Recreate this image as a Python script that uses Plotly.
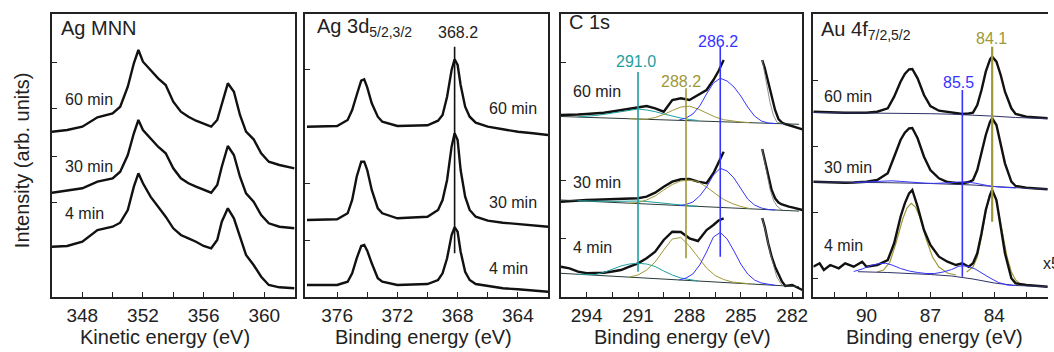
import plotly.graph_objects as go

W, H = 1054, 352
ML, MR, MT, MB = 52, 0, 14, 55
PW = W - ML - MR
PH = H - MT - MB
FONT = "Liberation Sans, Arial, sans-serif"

TEAL = "#1f9e9e"
OLIVE = "#9e9838"
BLUE = "#3535ff"
NAVY = "#303068"
INK = "#111111"

# ---------------- Ag MNN (kinetic energy) ----------------
mnn_energy = [346.0, 347, 348, 349, 350, 350.5, 351, 351.4, 351.7, 352, 352.5, 353, 353.5, 354, 354.5,
              355, 355.5, 356, 356.5, 356.9, 357.2, 357.6, 358, 358.4, 358.8, 359.3, 359.8, 360.3, 361, 362]
mnn_60 = [165.3, 167, 170.3, 179.7, 183.7, 190.3, 210.3, 233.7, 247, 235.3, 227, 218.7, 212, 195.3, 185.3,
          180.3, 176.3, 173, 170.3, 177, 193.7, 213.7, 205.3, 182, 165.3, 157.7, 143.7, 135.3, 132, 128.7]
mnn_30 = [104.3, 106.3, 108.7, 115.3, 118.7, 125.3, 142, 163.7, 177, 167, 158.7, 150.3, 143.7, 128.7, 118.7,
          113.7, 110.3, 107, 104.3, 112, 130.3, 151, 142, 120.3, 103.7, 95.3, 82, 73.7, 70.3, 68.7]
mnn_4 = [50.3, 51, 55.3, 67, 70.3, 74.3, 87, 110.3, 123.7, 113.7, 100.3, 90.3, 80.3, 68.7, 62,
         58.7, 55.3, 51, 48.7, 57, 75.3, 88.7, 78.7, 60.3, 42, 32, 20.3, 12, 9.7, 8.7]

# ---------------- Ag 3d ----------------
ag3d_energy = [378, 376, 375.3, 375, 374.7, 374.4, 374.2, 374, 373.7, 373.3, 373, 372, 370, 369.3,
               369, 368.7, 368.4, 368.2, 368, 367.8, 367.5, 367.2, 366.8, 366, 365, 364, 363, 362]
ag3d_60 = [170.3, 171, 177, 187, 202, 216.3, 217.7, 209.7, 193.7, 180.3, 175.3, 171, 171.7, 176.3,
           182, 200.3, 227, 237.7, 232, 212, 190.3, 180.3, 174.3, 170.3, 167.7, 165.3, 163.7, 162]
ag3d_30 = [77, 77.7, 83.7, 97, 120.3, 135.3, 135.3, 127, 107, 88.7, 83.7, 78.7, 80.3, 87,
           97, 117, 150.3, 163.7, 157, 127, 100.3, 87, 80.3, 76.3, 74.3, 73, 71.7, 70.3]
ag3d_4 = [12, 12, 15.3, 23.7, 38.7, 51, 52, 46.3, 33.7, 18.7, 15.3, 12, 13, 17,
          23.7, 38.7, 62, 69.7, 65.3, 45.3, 25.3, 17, 13, 11, 8.7, 7.7, 6.3, 5.3]
ag3d_peak = 368.2
ag3d_marker_span = [43.7, 250.3]

# ---------------- C 1s ----------------
c1s_left_energy = [295.5, 295, 294.5, 294, 293.5, 293, 292.5, 292, 291.5, 291, 290.5, 290, 289.5,
                   289, 288.5, 288, 287.5, 287, 286.6, 286.3, 286.0]
c1s_left_60 = [182, 182, 182.5, 183, 183.5, 184.3, 185.5, 187, 188.5, 189.7, 191, 188.7, 185.3,
               197, 198.7, 197, 202, 207, 217, 226, 237]
c1s_left_30 = [95.3, 96, 96.5, 97, 97.3, 97.7, 97.8, 98, 98.3, 98.7, 100.3, 104.3, 110.3,
               115.3, 117.7, 118, 115.3, 113.7, 123.7, 133.7, 145.3]
c1s_left_4 = [30.3, 28.7, 25.3, 23.7, 24, 24.3, 25.5, 27, 30.3, 33.7, 38.7, 45.3, 57,
              65.3, 65, 58.7, 56, 67, 72, 76.5, 78.7]
c1s_right_energy = [283.75, 283.6, 283.4, 283.2, 283.0, 282.8, 282.6, 282.4, 282.2, 282.0, 281.7, 281.4]
c1s_right_60 = [237, 229, 215, 200.3, 187, 178, 174.5, 173, 172, 171, 169, 167.7]
c1s_right_30 = [148, 137, 120, 107, 98.7, 94.5, 92.5, 91, 90.3, 89.7, 88.5, 87]
c1s_right_4 = [79, 70, 53.7, 40.3, 30.3, 22.5, 15.5, 11, 11.5, 12, 9.5, 7]

c1s_bg_energy = [295.5, 291, 288, 286, 284.5, 283.5, 282.6, 281.6]
c1s_bg_60 = [180.5, 178, 176.3, 175.2, 174.3, 173.8, 173.3, 172.7]
c1s_bg_30 = [97, 93.4, 91, 89.4, 88.2, 87.4, 86.7, 85.9]
c1s_bg_4 = [23.7, 19.4, 16.5, 14.6, 13.1, 12.2, 11.3, 10.3]

c1s_teal_energy = [294.5, 294, 293.5, 293, 292.5, 292, 291.5, 291, 290.5, 290, 289.5, 289, 288.5, 288, 287.5]
c1s_teal_60 = [180.2, 180.7, 181.5, 182.6, 184, 185.5, 187, 188, 187, 185.4, 183, 180.9, 179, 177.5, 176.5]
c1s_teal_30 = [96.2, 95.9, 95.6, 95.6, 95.6, 95.7, 95.9, 96, 95.5, 94.6, 93.6, 92.6, 91.8, 91.2, 90.8]
c1s_teal_4 = [22.7, 22.4, 22.5, 24.5, 28, 31, 33, 33.7, 33, 30.5, 26, 22, 19, 17.2, 16]

c1s_olive_energy = [291.5, 291, 290.5, 290, 289.5, 289, 288.5, 288, 287.5, 287, 286.5, 286, 285.5, 285, 284.5]
c1s_olive_60 = [178.3, 178.2, 177.8, 179.5, 182.5, 186.5, 190, 190.8, 188, 184, 180, 177.3, 175.8, 175, 174.4]
c1s_olive_30 = [93.8, 94.5, 97, 101, 107, 112.5, 116, 117, 115.5, 110, 103.5, 97.5, 93.5, 90.5, 88.5]
c1s_olive_4 = [20, 22, 27, 35, 47, 58, 59.5, 51, 40, 29, 21.5, 17.5, 15, 13.8, 13.2]

c1s_blue_energy = [288.6, 288.2, 287.8, 287.4, 287, 286.6, 286.2, 285.8, 285.4, 285, 284.6, 284.2, 283.8, 283.4, 283]
c1s_blue_60 = [177, 179, 183, 191, 203, 214, 218.7, 216, 210, 201, 190, 181, 176, 174, 173.5]
c1s_blue_30 = [91.3, 92.5, 95, 101, 110, 122, 128.7, 126, 119, 108, 98, 92, 89, 87.5, 87]
c1s_blue_4 = [17, 19, 23, 32, 45, 60, 64.5, 58, 46, 33, 23, 17, 14, 12.5, 11.7]

c1s_env_energy = [283.75, 283.5, 283.3, 283.1, 282.9, 282.6]
c1s_env_60 = [237, 215, 195, 182, 175, 173.3]
c1s_env_30 = [148, 125, 108, 97, 91, 87]
c1s_env_4 = [79, 62, 45, 32, 20, 12]

c1s_peaks = [291.0, 288.2, 286.2]
c1s_marker_spans = [[25.3, 225.0], [38.7, 208.7], [40.3, 250.3]]

# ---------------- Au 4f ----------------
au_energy = [92.5, 92.2, 92, 91.7, 91.3, 91, 90.6, 90.2, 90, 89.5, 89, 88.7, 88.4, 88.2, 88.0, 87.85,
             87.6, 87.3, 87, 86.6, 86.2, 85.8, 85.5, 85.2, 85, 84.8, 84.6, 84.4, 84.2, 84.1, 83.9,
             83.7, 83.5, 83.2, 83, 82.5, 82, 81.5]
au_60 = [185.3, 185, 184.7, 184.5, 184.4, 184.3, 184.3, 184.3, 184.3, 185.3, 188.7, 200.3, 215.3, 223,
         227.7, 228, 218.7, 202, 191, 186.3, 185, 183.7, 183, 183.5, 184.3, 192, 207, 225.3, 237.7,
         240.3, 235.3, 222, 205.3, 188.7, 183, 180.3, 179.7, 178.7]
au_30 = [115.3, 115, 114.7, 114.5, 114.4, 114.3, 114.5, 115, 115.3, 117, 123.7, 140.3, 157, 164.3,
         168.7, 169, 158.7, 140.3, 127, 118.7, 115, 114, 113.7, 115, 117, 127, 143.7, 162, 175.3,
         178.7, 172, 153.7, 133.7, 115.3, 111, 109.3, 108.3, 107.7]
au_4 = [30.3, 33.7, 27, 32, 28.7, 33.7, 30.3, 35.3, 30.3, 32, 37, 53.7, 80.3, 93.7, 103.7, 107,
        90.3, 67, 52, 40.3, 35.3, 32, 33.7, 30.3, 33.7, 43.7, 63.7, 87, 102, 107, 97, 70.3, 43.7,
        18.7, 13.7, 12, 11, 10.3]

au_bg_energy = [92.5, 91, 90.4, 89, 87, 86, 85, 84, 83, 82, 81.5]
au_bg_60 = [184.5, 184.3, 184.2, 184, 183.3, 182.8, 182, 180.8, 179.5, 178.8, 178.5]
au_bg_30 = [115, 114.8, 114.6, 114.3, 113.5, 113, 112, 110.5, 109, 108.2, 107.8]
au_bg_4 = [None, None, 25.3, 24.5, 22.5, 21, 18, 14, 11.5, 10.8, 10.5]

au_blue_energy = [90.6, 90.2, 89.8, 89.4, 89.1, 88.8, 88.4, 88, 87.6, 87.2, 86.8, 86.4, 86, 85.7,
                  85.5, 85.2, 84.9, 84.6, 84.2, 83.8, 83.4, 83]
au_blue_30 = [114.6, 115, 115.6, 116.2, 116.4, 116.2, 115.6, 114.8, 114.2, 113.8, 113.6, 113.8, 114.4,
              115, 115.2, 114.8, 113.8, 112.5, 111, 110, 109.3, 109]
au_blue_4 = [25.5, 28, 31.5, 33.5, 33.7, 32, 28.5, 26, 24.5, 23.5, 23.5, 25, 27.5, 30.5, 31.3, 30.5,
             28, 24, 19, 14.5, 12, 11.5]

au_olive_energy_a = [89.5, 89.2, 88.9, 88.6, 88.3, 88.1, 87.9, 87.7, 87.5, 87.2, 86.9, 86.6, 86.2, 85.8]
au_olive_4_a = [25, 27, 35, 55, 78, 89, 93.7, 90, 80, 58, 40, 30, 24, 22]
au_olive_energy_b = [85.3, 85, 84.8, 84.6, 84.4, 84.25, 84.1, 83.95, 83.8, 83.6, 83.4, 83.2, 83, 82.8]
au_olive_4_b = [25, 30, 40, 60, 85, 100, 107, 100, 85, 62, 40, 25, 17, 13]

au_peaks = [85.5, 84.1]
au_marker_spans = [[20.3, 207.0], [75.3, 250.3]]

# ---------------- axes ----------------
x_ranges = [[346, 362], [378.1, 362.0], [295.5, 281.4], [92.49, 81.48]]
x_tickvals = [[348, 350, 352, 354, 356, 358, 360],
              [376, 374, 372, 370, 368, 366, 364],
              [294, 292.5, 291, 289.5, 288, 286.5, 285, 283.5, 282],
              [91.5, 90, 88.5, 87, 85.5, 84, 82.5]]
x_ticktext = [["348", "", "352", "", "356", "", "360"],
              ["376", "", "372", "", "368", "", "364"],
              ["294", "", "291", "", "288", "", "285", "", "282"],
              ["", "90", "", "87", "", "84", ""]]
y_tickvals = [[235, 189, 141, 95], [228, 114, 57], [235, 117, 59], [217, 151, 85, 19]]
x_titles = ["Kinetic energy (eV)", "Binding energy (eV)", "Binding energy (eV)", "Binding energy (eV)"]
y_title = "Intensity (arb. units)"

fig = go.Figure()


def ax(i):
    return "" if i == 1 else str(i)


def add(p, x, y, color, width):
    fig.add_trace(go.Scatter(x=x, y=y, mode="lines", line=dict(color=color, width=width),
                             xaxis="x" + ax(p), yaxis="y" + ax(p), showlegend=False,
                             hoverinfo="skip"))


DW = 2.4
# panel 1
for s in (mnn_60, mnn_30, mnn_4):
    add(1, mnn_energy, s, INK, DW)
# panel 2
for s in (ag3d_60, ag3d_30, ag3d_4):
    add(2, ag3d_energy, s, INK, DW)
add(2, [ag3d_peak, ag3d_peak], ag3d_marker_span, INK, 1.6)

# panel 3
for left, right in ((c1s_left_60, c1s_right_60), (c1s_left_30, c1s_right_30), (c1s_left_4, c1s_right_4)):
    add(3, c1s_left_energy, left, INK, DW)
    add(3, c1s_right_energy, right, INK, DW)
for s in (c1s_env_60, c1s_env_30, c1s_env_4):
    add(3, c1s_env_energy, s, "#777777", 0.8)
for s in (c1s_bg_60, c1s_bg_30, c1s_bg_4):
    add(3, c1s_bg_energy, s, "#2a3a3a", 1.0)
for s in (c1s_teal_60, c1s_teal_30, c1s_teal_4):
    add(3, c1s_teal_energy, s, TEAL, 1.0)
for s in (c1s_olive_60, c1s_olive_30, c1s_olive_4):
    add(3, c1s_olive_energy, s, OLIVE, 1.0)
for s in (c1s_blue_60, c1s_blue_30, c1s_blue_4):
    add(3, c1s_blue_energy, s, BLUE, 1.0)
for pk, span, col in zip(c1s_peaks, c1s_marker_spans, (TEAL, OLIVE, BLUE)):
    add(3, [pk, pk], span, col, 1.6)

# panel 4
add(4, au_olive_energy_a, au_olive_4_a, OLIVE, 1.2)
add(4, au_olive_energy_b, au_olive_4_b, OLIVE, 1.2)
for s in (au_60, au_30, au_4):
    add(4, au_energy, s, INK, DW)
for s in (au_bg_60, au_bg_30, au_bg_4):
    add(4, au_bg_energy, s, NAVY, 1.0)
for s in (au_blue_30, au_blue_4):
    add(4, au_blue_energy, s, BLUE, 1.0)
for pk, span, col, w in zip(au_peaks, au_marker_spans, (BLUE, OLIVE), (1.6, 2.2)):
    add(4, [pk, pk], span, col, w)

# ---------------- layout ----------------
domains = [[0.0, 244 / PW], [255 / PW, 499 / PW], [512 / PW, 755 / PW], [766 / PW, 1.0]]
layout = dict(width=W, height=H, margin=dict(l=ML, r=MR, t=MT, b=MB, pad=0),
              paper_bgcolor="white", plot_bgcolor="white",
              font=dict(family=FONT, color="#222222"), showlegend=False)
for i in range(4):
    n = ax(i + 1)
    layout["xaxis" + n] = dict(domain=domains[i], range=x_ranges[i], anchor="y" + n,
                               showline=True, linecolor="#222", linewidth=1.5, mirror=True,
                               ticks="inside", ticklen=5, tickwidth=1.2, tickcolor="#222",
                               tickvals=x_tickvals[i], ticktext=x_ticktext[i],
                               tickfont=dict(size=19, color="#222", family=FONT),
                               showgrid=False, zeroline=False, fixedrange=True)
    layout["yaxis" + n] = dict(domain=[0, 1], range=[0, PH], anchor="x" + n,
                               showline=True, linecolor="#222", linewidth=1.5,
                               mirror=(i < 3), ticks="inside", ticklen=5, tickwidth=1.2,
                               tickcolor="#222", tickvals=y_tickvals[i], showticklabels=False,
                               showgrid=False, zeroline=False, fixedrange=True)
fig.update_layout(**layout)


def px(x):
    return (x - ML) / PW


def py(y):
    return (MT + PH - y) / PH


anns = []


def label(text, x, y, size=16, color="#222222", xanchor="left", angle=0):
    anns.append(dict(text=text, x=px(x), y=py(y), xref="paper", yref="paper", showarrow=False,
                     xanchor=xanchor, yanchor="middle", textangle=angle,
                     font=dict(size=size, color=color, family=FONT)))


# axis titles
for cx, t in zip((166, 426, 686, 940), x_titles):
    label(t, cx, 337, size=20, xanchor="center")
label(y_title, 22, 160, size=20, xanchor="center", angle=-90)

# panel titles
label("Ag MNN", 59, 28, size=20)
label("Ag 3d<sub>5/2,3/2</sub>", 317, 27, size=20)
label("C 1s", 570, 22, size=20)
label("Au 4f<sub>7/2,5/2</sub>", 824, 31, size=20)

# time labels
for t, y in zip(("60 min", "30 min", "4 min"), (99, 166, 213)):
    label(t, 63, y)
for t, y in zip(("60 min", "30 min", "4 min"), (108, 202, 268)):
    label(t, 490, y)
for t, y in zip(("60 min", "30 min", "4 min"), (92, 182, 247)):
    label(t, 574, y)
for t, y in zip(("60 min", "30 min", "4 min"), (97, 167, 245)):
    label(t, 827, y)

# peak position labels
label(f"{ag3d_peak:.1f}", 460, 32, xanchor="center")
for pk, (x, y), col in zip(c1s_peaks, ((640, 62), (685, 81), (722, 41)), (TEAL, OLIVE, BLUE)):
    label(f"{pk:.1f}", x, y, color=col, xanchor="center")
for pk, (x, y), col in zip(au_peaks, ((964, 82), (997, 38)), (BLUE, OLIVE)):
    label(f"{pk:.1f}", x, y, color=col, xanchor="center")
label("x5", 1047, 263)

fig.update_layout(annotations=anns)
fig.write_html("out.html")
